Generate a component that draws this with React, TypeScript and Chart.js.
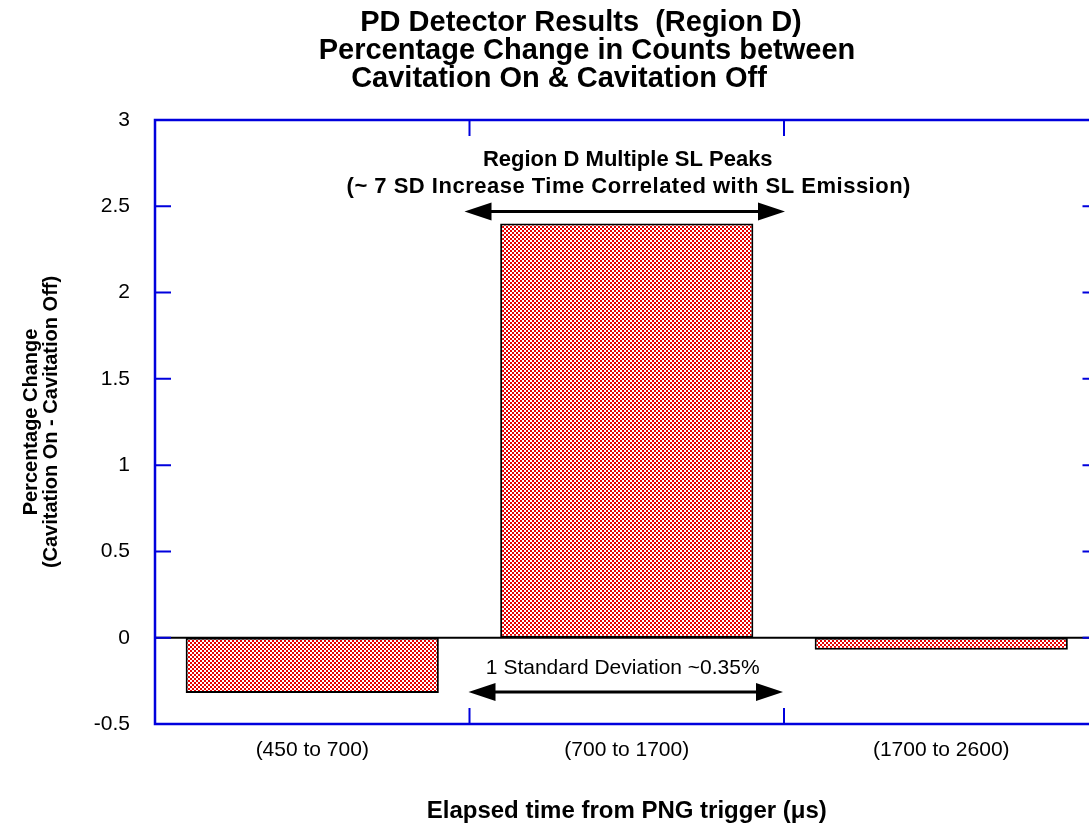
import React, { useEffect, useRef } from "react";
import { Chart, registerables } from "chart.js";

Chart.register(...registerables);

const categories = ["(450 to 700)", "(700 to 1700)", "(1700 to 2600)"];
const percentChange = [-0.32, 2.4, -0.07];
const yTickValues = [-0.5, 0, 0.5, 1, 1.5, 2, 2.5, 3];
const titleLines = [
  "PD Detector Results  (Region D)",
  "Percentage Change in Counts between",
  "Cavitation On & Cavitation Off",
];
const yTitleLines = ["Percentage Change", "(Cavitation On - Cavitation Off)"];
const xTitle = "Elapsed time from PNG trigger (\u03bcs)";
const peakNote = [
  "Region D Multiple SL Peaks",
  "(~ 7 SD Increase Time Correlated with SL Emission)",
];
const sdNote = "1 Standard Deviation ~0.35%";

const FONT = "'Liberation Sans', Arial, Helvetica, sans-serif";
const BLUE = "#0000dd";

function drawArrow(ctx: CanvasRenderingContext2D, x1: number, x2: number, y: number) {
  const hl = 27;
  const hw = 9;
  ctx.save();
  ctx.strokeStyle = "#000";
  ctx.fillStyle = "#000";
  ctx.lineWidth = 3;
  ctx.beginPath();
  ctx.moveTo(x1 + hl - 2, y);
  ctx.lineTo(x2 - hl + 2, y);
  ctx.stroke();
  ctx.beginPath();
  ctx.moveTo(x1, y);
  ctx.lineTo(x1 + hl, y - hw);
  ctx.lineTo(x1 + hl, y + hw);
  ctx.closePath();
  ctx.fill();
  ctx.beginPath();
  ctx.moveTo(x2, y);
  ctx.lineTo(x2 - hl, y - hw);
  ctx.lineTo(x2 - hl, y + hw);
  ctx.closePath();
  ctx.fill();
  ctx.restore();
}

const decorPlugin = {
  id: "decor",
  beforeDatasetsDraw(chart: any) {
    const { ctx, chartArea: a, scales } = chart;
    const y0 = scales.y.getPixelForValue(0);
    ctx.save();
    ctx.strokeStyle = "#000";
    ctx.lineWidth = 2;
    ctx.beginPath();
    ctx.moveTo(a.left, y0);
    ctx.lineTo(a.right, y0);
    ctx.stroke();
    ctx.restore();
  },
  afterDatasetsDraw(chart: any) {
    const { ctx, chartArea: a, scales } = chart;
    const xs = scales.x;
    const ys = scales.y;
    const tl = 16;
    ctx.save();
    ctx.strokeStyle = BLUE;
    ctx.lineWidth = 2.5;
    ctx.strokeRect(a.left, a.top, a.right - a.left, a.bottom - a.top);
    ctx.lineWidth = 2;
    ctx.beginPath();
    yTickValues.forEach((v) => {
      const py = ys.getPixelForValue(v);
      ctx.moveTo(a.left, py);
      ctx.lineTo(a.left + tl, py);
      ctx.moveTo(a.right, py);
      ctx.lineTo(a.right - tl, py);
    });
    const centers = categories.map((_, i) => xs.getPixelForValue(i));
    const bounds: number[] = [];
    for (let i = 0; i < centers.length - 1; i++) bounds.push((centers[i] + centers[i + 1]) / 2);
    bounds.forEach((bx) => {
      ctx.moveTo(bx, a.bottom);
      ctx.lineTo(bx, a.bottom - tl);
      ctx.moveTo(bx, a.top);
      ctx.lineTo(bx, a.top + tl);
    });
    ctx.stroke();
    ctx.restore();

    // annotations
    const b1 = bounds[0];
    const b2 = bounds[1];
    drawArrow(ctx, b1 - 5, b2 + 1, ys.getPixelForValue(2.47));
    drawArrow(ctx, b1 - 1, b2 - 1, ys.getPixelForValue(-0.315));
    ctx.save();
    ctx.fillStyle = "#000";
    ctx.textAlign = "center";
    ctx.textBaseline = "middle";
    ctx.font = `bold 22px ${FONT}`;
    ctx.fillText(peakNote[0], centers[1] + 1, ys.getPixelForValue(2.77));
    (ctx as any).letterSpacing = "0.5px";
    ctx.fillText(peakNote[1], centers[1] + 2, ys.getPixelForValue(2.615));
    (ctx as any).letterSpacing = "0px";
    ctx.font = `21px ${FONT}`;
    ctx.fillText(sdNote, centers[1] - 4, ys.getPixelForValue(-0.175));
    ctx.restore();
  },
  afterDraw(chart: any) {
    const { ctx } = chart;
    ctx.save();
    ctx.fillStyle = "#000";
    ctx.textAlign = "center";
    ctx.textBaseline = "middle";
    ctx.font = `bold 29px ${FONT}`;
    ctx.fillText(titleLines[0], 581, 23);
    ctx.fillText(titleLines[1], 587, 51);
    ctx.fillText(titleLines[2], 559, 79);
    ctx.restore();
  },
};

export default function App() {
  const canvasRef = useRef<HTMLCanvasElement | null>(null);

  useEffect(() => {
    const canvas = canvasRef.current;
    if (!canvas) return;
    const c2d = canvas.getContext("2d")!;
    const tile = document.createElement("canvas");
    tile.width = 4;
    tile.height = 4;
    const g = tile.getContext("2d")!;
    g.fillStyle = "#ffffff";
    g.fillRect(0, 0, 4, 4);
    g.fillStyle = "#e80000";
    g.fillRect(0, 0, 2, 2);
    g.fillRect(2, 2, 2, 2);
    const pattern = c2d.createPattern(tile, "repeat");

    Chart.defaults.font.family = FONT;
    Chart.defaults.color = "#000";

    const chart = new Chart(canvas, {
      type: "bar",
      data: {
        labels: categories,
        datasets: [
          {
            data: percentChange,
            backgroundColor: pattern as any,
            borderColor: "#000",
            borderWidth: 2,
            borderSkipped: false,
            barPercentage: 0.805,
            categoryPercentage: 1,
          },
        ],
      },
      options: {
        animation: false,
        responsive: true,
        maintainAspectRatio: false,
        devicePixelRatio: 1,
        layout: { padding: { top: 120, right: 1.5, left: 0, bottom: 0 } },
        plugins: {
          legend: { display: false },
          tooltip: { enabled: false },
          title: { display: false },
        },
        scales: {
          x: {
            grid: { display: false, drawTicks: false },
            border: { display: false },
            ticks: {
              color: "#000",
              font: { size: 21 },
              padding: 14,
              maxRotation: 0,
              autoSkip: false,
            },
            title: {
              display: true,
              text: xTitle,
              color: "#000",
              font: { size: 24, weight: "bold" },
              padding: { top: 0, bottom: 1 },
            },
            afterFit: (s: any) => {
              s.height = 103;
            },
          },
          y: {
            min: -0.5,
            max: 3,
            grid: { display: false, drawTicks: false },
            border: { display: false },
            afterBuildTicks: (s: any) => {
              s.ticks = yTickValues.map((v) => ({ value: v }));
            },
            ticks: {
              color: "#000",
              font: { size: 21 },
              padding: 25,
              callback: (v: any) => String(v),
            },
            title: {
              display: true,
              text: yTitleLines,
              color: "#000",
              font: { size: 20, weight: "bold", lineHeight: 1.0 },
              padding: { top: 21, bottom: 0 },
            },
            afterFit: (s: any) => {
              s.width = 155;
            },
          },
        },
      } as any,
      plugins: [decorPlugin],
    });
    return () => chart.destroy();
  }, []);

  return (
    <div
      style={{
        position: "fixed",
        left: 0,
        top: 0,
        width: 1089,
        height: 827,
        overflow: "hidden",
        background: "#fff",
      }}
    >
      <div style={{ position: "relative", width: 1100, height: 827 }}>
        <canvas ref={canvasRef} />
      </div>
    </div>
  );
}
